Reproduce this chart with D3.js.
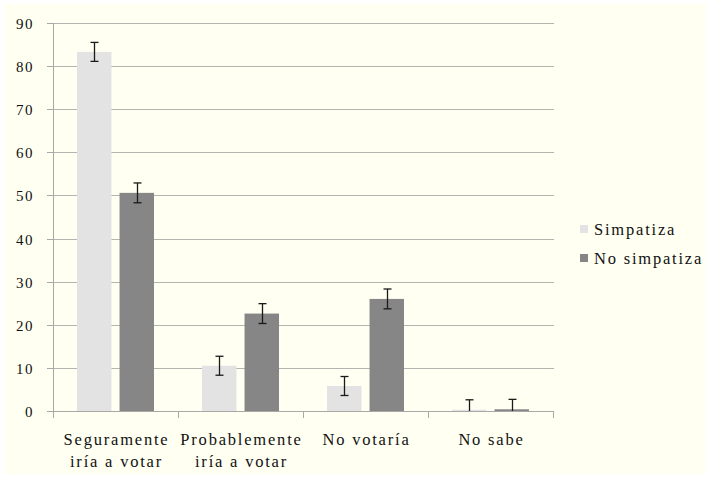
<!DOCTYPE html>
<html>
<head>
<meta charset="utf-8">
<script src="https://cdn.jsdelivr.net/npm/d3@7"></script>
</head>
<body style="margin:0">
<div style="position:absolute; left:-2000px; top:0; font-family:'Liberation Serif'; font-size:16px;">Seguramente iría a votar 0123456789 No simpatiza</div>
<div id="chart"></div>
<script>
// chart values
const categories = [["Seguramente", "iría a votar"], ["Probablemente", "iría a votar"], ["No votaría"], ["No sabe"]];
const seriesNames = ["Simpatiza", "No simpatiza"];
const simpatiza = [83.3, 10.5, 5.8, 0.3];
const noSimpatiza = [50.6, 22.6, 26.0, 0.4];
const errSimpatiza = [2.2, 2.2, 2.2, 2.3];
const errNoSimpatiza = [2.3, 2.3, 2.3, 2.3];
const yTicks = [0, 10, 20, 30, 40, 50, 60, 70, 80, 90];

const width = 710, height = 478;
const plot = { left: 53, right: 553, top: 23, bottom: 411 };
const colors = { "Simpatiza": "#e3e3e3", "No simpatiza": "#868686" };

function draw() {
  d3.select("#chart").selectAll("*").remove();
  const svg = d3.select("#chart").append("svg")
    .attr("width", width).attr("height", height)
    .style("display", "block");

  // cream chart area with thin white border
  svg.append("rect").attr("x", 4).attr("y", 4)
    .attr("width", width - 8).attr("height", height - 8)
    .attr("fill", "#fffff2");

  const y = d3.scaleLinear().domain([0, 90]).range([plot.bottom, plot.top]);
  const x0 = d3.scaleBand().domain(d3.range(categories.length)).range([plot.left, plot.right]);
  const x1 = d3.scaleBand().domain(seriesNames).range([24, 101]).paddingInner(0.19);

  // serif text, a little letter-spaced like the original
  function label(x, yy, txt, size, spacing, anchor) {
    svg.append("text")
      .attr("x", x).attr("y", yy)
      .style("font-family", "Liberation Serif")
      .style("font-size", size + "px")
      .style("letter-spacing", spacing + "px")
      .attr("text-anchor", anchor)
      .attr("fill", "#111")
      .text(txt);
  }

  // gridlines
  svg.selectAll("line.grid").data(yTicks.filter(d => d > 0)).enter().append("line")
    .attr("class", "grid")
    .attr("x1", plot.left).attr("x2", plot.right + 1)
    .attr("y1", d => Math.round(y(d)) + 0.5).attr("y2", d => Math.round(y(d)) + 0.5)
    .attr("stroke", "#b4b4b0").attr("stroke-width", 1);

  // y axis
  svg.append("line").attr("x1", plot.left + 0.5).attr("x2", plot.left + 0.5)
    .attr("y1", plot.top).attr("y2", plot.bottom).attr("stroke", "#a8a8a8");
  yTicks.forEach(t => {
    const ty = Math.round(y(t)) + 0.5;
    svg.append("line").attr("x1", plot.left - 6).attr("x2", plot.left)
      .attr("y1", ty).attr("y2", ty).attr("stroke", "#a8a8a8");
    label(34, ty + 5, String(t), 15, 1.5, "end");
  });

  // x axis
  svg.append("line").attr("x1", plot.left).attr("x2", plot.right + 1)
    .attr("y1", plot.bottom + 0.5).attr("y2", plot.bottom + 0.5).attr("stroke", "#a8a8a8");
  d3.range(categories.length + 1).forEach(i => {
    const tx = Math.round(plot.left + i * x0.step()) + 0.5;
    svg.append("line").attr("x1", tx).attr("x2", tx)
      .attr("y1", plot.bottom).attr("y2", plot.bottom + 7).attr("stroke", "#a8a8a8");
  });
  categories.forEach((lines, i) => {
    const cx = x0(i) + x0.bandwidth() / 2 + 1;
    lines.forEach((ln, k) => label(cx, 445 + k * 22, ln, 16.5, 1.8, "middle"));
  });

  // bars + error bars
  const rows = categories.map((c, i) => [
    { s: "Simpatiza", v: simpatiza[i], e: errSimpatiza[i], i },
    { s: "No simpatiza", v: noSimpatiza[i], e: errNoSimpatiza[i], i }
  ]).flat();

  svg.selectAll("rect.bar").data(rows).enter().append("rect")
    .attr("class", "bar")
    .attr("x", d => x0(d.i) + x1(d.s))
    .attr("width", x1.bandwidth())
    .attr("y", d => y(d.v))
    .attr("height", d => y(0) - y(d.v))
    .attr("fill", d => colors[d.s]);

  const errs = svg.append("g").attr("stroke", "#1a1a1a").attr("stroke-width", 1.3);
  rows.forEach(d => {
    const cx = Math.round(x0(d.i) + x1(d.s) + x1.bandwidth() / 2) + 0.5;
    const hi = y(d.v + d.e), lo = y(Math.max(0, d.v - d.e));
    errs.append("line").attr("x1", cx).attr("x2", cx).attr("y1", hi).attr("y2", lo);
    errs.append("line").attr("x1", cx - 4).attr("x2", cx + 4).attr("y1", hi).attr("y2", hi);
    if (d.v - d.e > 0) errs.append("line").attr("x1", cx - 4).attr("x2", cx + 4).attr("y1", lo).attr("y2", lo);
  });

  // legend
  seriesNames.forEach((s, k) => {
    const ly = 223 + k * 29;
    svg.append("rect").attr("x", 580).attr("y", ly + 2).attr("width", 8).attr("height", 8).attr("fill", colors[s]);
    label(594, ly + 12, s, 16.5, 1.8, "start");
  });
}

draw();
// redraw once the serif face is surely loaded
if (document.fonts && document.fonts.load) {
  document.fonts.load("16px 'Liberation Serif'").then(draw).catch(() => {});
}
</script>
</body>
</html>
